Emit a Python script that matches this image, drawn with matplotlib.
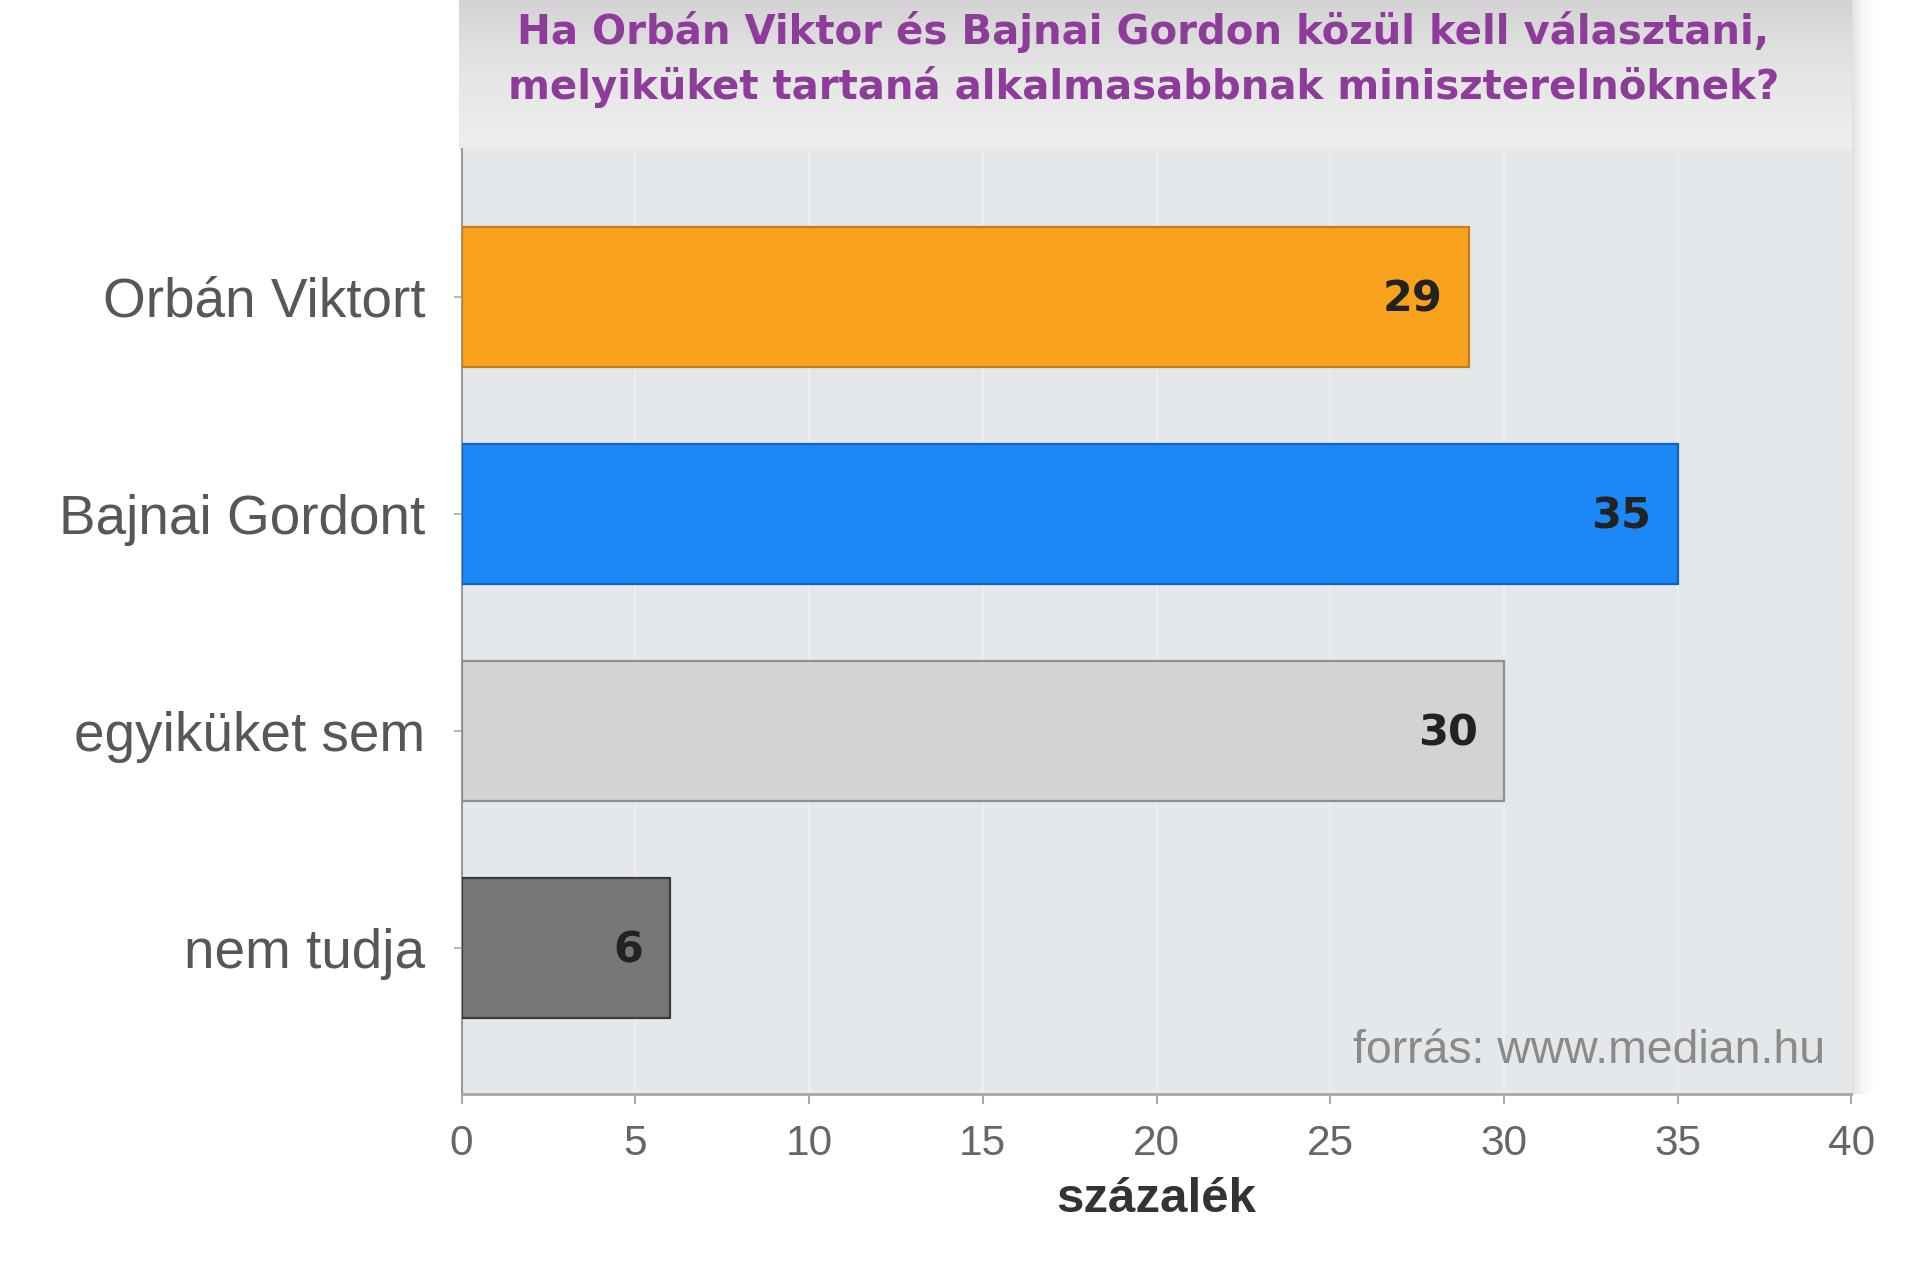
"""Median poll: Orbán vs Bajnai, horizontal bar chart with grey title band."""
import numpy as np
import matplotlib
matplotlib.use("Agg")
import matplotlib.pyplot as plt
from matplotlib.colors import LinearSegmentedColormap

TITLE = ("Ha Orbán Viktor és Bajnai Gordon közül kell választani,\n"
         "melyiküket tartaná alkalmasabbnak miniszterelnöknek?")
CATEGORIES = ["Orbán Viktort", "Bajnai Gordont", "egyiküket sem", "nem tudja"]
VALUES = [29, 35, 30, 6]
X_TICKS = [0, 5, 10, 15, 20, 25, 30, 35, 40]
X_LABEL = "százalék"
SOURCE = "forrás: www.median.hu"

BAR_COLORS = ["#f8a21d", "#1b88f6", "#d3d3d3", "#777777"]
EDGE_COLORS = ["#c47f14", "#1262c2", "#8f8f8f", "#3a3a3a"]

fig = plt.figure(figsize=(19.2, 12.8), dpi=100)
fig.patch.set_facecolor("white")

# soft shadow strip on the right of the panel
shadow = fig.add_axes([0.9635, 0.1457, 0.012, 0.8543])
shadow.imshow(np.linspace(0, 1, 64).reshape(1, -1), aspect="auto",
              cmap=LinearSegmentedColormap.from_list("sh", ["#dedede", "#f6f6f6", "#ffffff"]),
              extent=(0, 1, 0, 1))
shadow.set_axis_off()

# title band: vertical grey gradient above the plot area
band = fig.add_axes([0.239, 0.8836, 0.7255, 0.1164])
grad = np.linspace(0.0, 1.0, 256).reshape(-1, 1)
band.imshow(grad, aspect="auto",
            cmap=LinearSegmentedColormap.from_list("band", ["#d3d3d3", "#e6e6e6", "#eeeeee"]),
            extent=(0, 1, 0, 1))
band.set_axis_off()
fig.text(0.5955, 0.9536, TITLE, ha="center", va="center", fontsize=29,
         fontweight="bold", color="#8e3c9a", family="DejaVu Sans", linespacing=1.4)

ax = fig.add_axes([0.2404, 0.1457, 0.7239, 0.7379])
ax.set_facecolor("#e5e8eb")
y = np.arange(len(CATEGORIES))
ax.barh(y, VALUES, height=0.645, color=BAR_COLORS, edgecolor=EDGE_COLORS,
        linewidth=1.6, zorder=3)
for yi, v in zip(y, VALUES):
    ax.annotate(str(v), (v, yi), xytext=(-19, -2), textcoords="offset points",
                ha="right", va="center", fontsize=31, fontweight="bold",
                color="#222222", family="DejaVu Sans", zorder=4)

ax.set_xlim(0, 40)
ax.set_ylim(3.67, -0.68)
ax.set_xticks(X_TICKS)
ax.set_yticks(y)
ax.set_yticklabels(CATEGORIES)
ax.xaxis.grid(True, color="#eef0f2", linewidth=1.2, zorder=0)
ax.set_axisbelow(True)

for s in ("top", "right"):
    ax.spines[s].set_visible(False)
ax.spines["left"].set_color("#999999")
ax.spines["bottom"].set_color("#a8a8a8")
ax.spines["left"].set_linewidth(1.5)
ax.spines["bottom"].set_linewidth(2)

ax.tick_params(axis="y", length=6, width=1.2, color="#aaaaaa", pad=20,
               labelsize=39.5, labelcolor="#575757")
ax.tick_params(axis="x", length=7, width=1.5, color="#aaaaaa", pad=15,
               labelsize=30.5, labelcolor="#666666")
for lab in ax.get_xticklabels() + ax.get_yticklabels():
    lab.set_family("Liberation Sans")

ax.set_xlabel(X_LABEL, fontsize=35.5, fontweight="bold", color="#333333",
              family="Liberation Sans", labelpad=9)
ax.text(0.981, 0.045, SOURCE, transform=ax.transAxes, ha="right", va="center",
        fontsize=33.4, color="#8a8a8a", family="Liberation Sans")

fig.savefig("out.png", dpi=100)
